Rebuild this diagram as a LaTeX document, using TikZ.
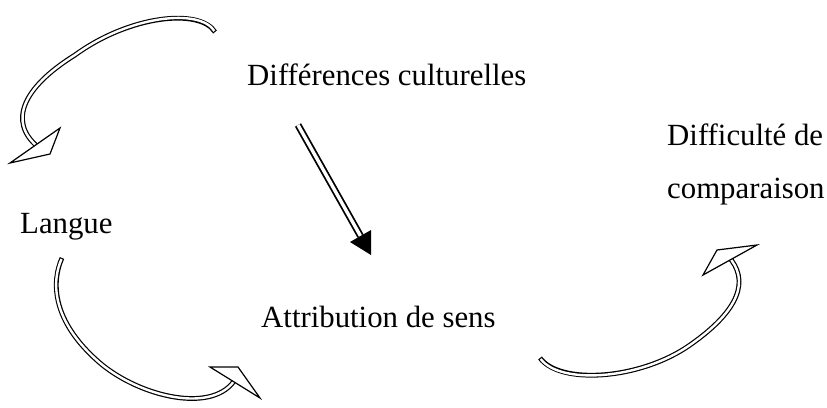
\documentclass[tikz,border=0pt]{standalone}
\usepackage{fontspec}
\setmainfont{Liberation Serif}
\begin{document}
\begin{tikzpicture}[x=1pt,y=-1pt,
  lbl/.style={inner sep=0pt,anchor=base west,font=\fontsize{30.8}{37}\selectfont},
  shaftout/.style={line width=4.8pt,black},
  shaftin/.style={line width=2.4pt,white,shorten <=1.2pt},
  headbox/.style={draw=black,fill=white,line width=1.2pt,line join=miter},
  straight/.style={double,double distance=3.4pt,line width=1.8pt}
]
\useasboundingbox (0,0) rectangle (827,407);
% labels
\node[lbl] (diff) at (247,85) {Différences culturelles};
\node[lbl] (lang) at (20,233) {Langue};
\node[lbl] (attr) at (261,327) {Attribution de sens};
\node[lbl] (diffi) at (667,145) {Difficulté de};
\node[lbl] (comp) at (667,198) {comparaison};
% coordinates
\coordinate (s1) at (215,32);
\coordinate (m1) at (75,55);
\coordinate (e1) at (38,147);
\coordinate (s2) at (62,258);
\coordinate (m2) at (100,363);
\coordinate (e2) at (236,378);
\coordinate (s3) at (540,358);
\coordinate (m3) at (690,345);
\coordinate (e3) at (728,256);
\coordinate (ss) at (298,125);
\coordinate (se) at (360.5,236);
% arrow 1 (top-left)
\draw[shaftout] (s1) .. controls (200,8) and (130,15) .. (m1) .. controls (22,88) and (8,122) .. (e1);
\draw[shaftin] (s1) .. controls (200,8) and (130,15) .. (m1) .. controls (22,88) and (8,122) .. (e1);
\draw[headbox] (10,163) -- (60,128) -- (50,154) -- cycle;
% arrow 2 (bottom-left)
\draw[shaftout] (s2) .. controls (52,280) and (50,320) .. (m2) .. controls (140,397) and (215,415) .. (e2);
\draw[shaftin] (s2) .. controls (52,280) and (50,320) .. (m2) .. controls (140,397) and (215,415) .. (e2);
\draw[headbox] (210,367) -- (238,367) -- (260,398) -- cycle;
% arrow 3 (bottom-right)
\draw[shaftout] (s3) .. controls (560,385) and (640,380) .. (m3) .. controls (740,310) and (750,280) .. (e3);
\draw[shaftin] (s3) .. controls (560,385) and (640,380) .. (m3) .. controls (740,310) and (750,280) .. (e3);
\draw[headbox] (703,275) -- (717,250) -- (757,245) -- cycle;
% straight arrow
\draw[straight] (ss) -- (se);
\fill[black] (350,242) -- (371,230) -- (371,255) -- cycle;
\end{tikzpicture}
\end{document}
